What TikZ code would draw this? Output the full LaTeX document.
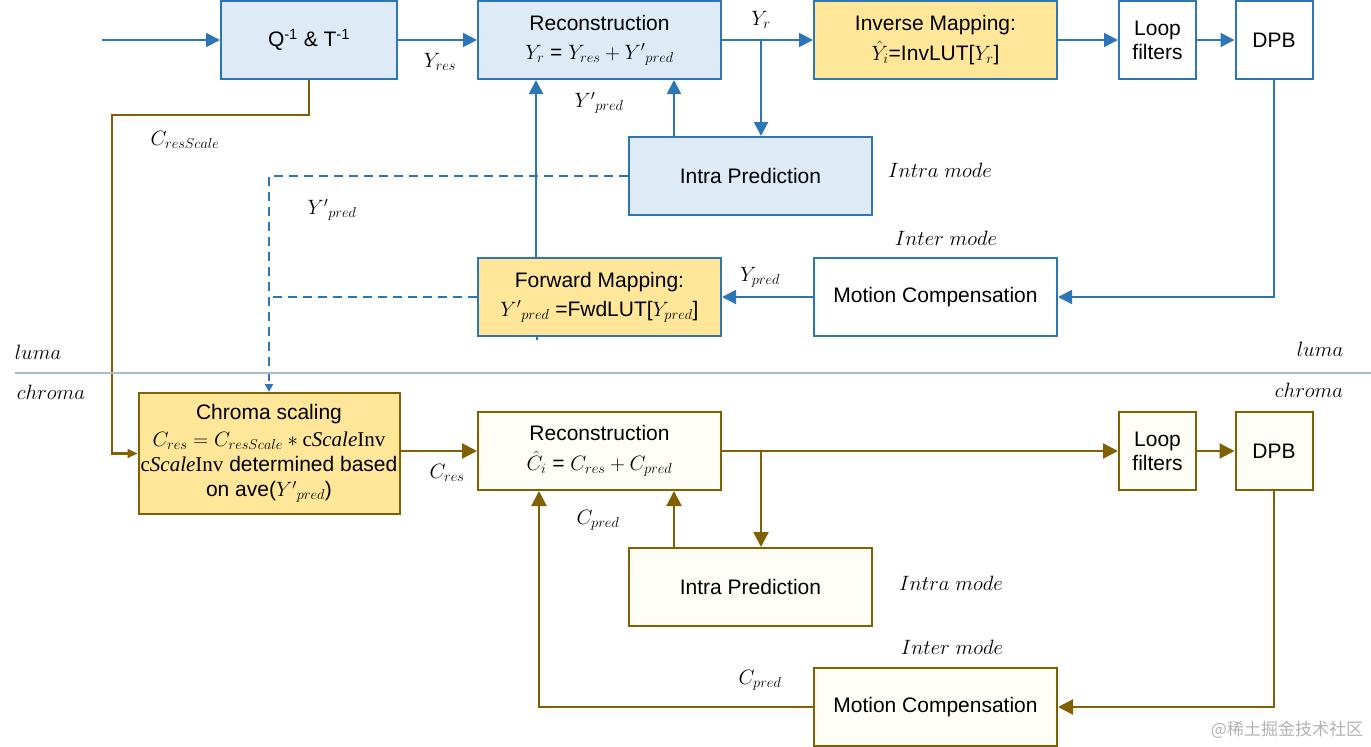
\documentclass[tikz,border=0pt]{standalone}
\usepackage{fontspec}
\setmainfont{Liberation Sans}
\newfontfamily\serifc{Liberation Serif}
\newfontfamily\cjk{Noto Sans CJK SC}
\usetikzlibrary{arrows.meta,calc}
\definecolor{lblue}{HTML}{2E75B6}
\definecolor{lfill}{HTML}{DEEBF7}
\definecolor{yfill}{HTML}{FFE699}
\definecolor{brn}{HTML}{806000}
\definecolor{cfill}{HTML}{FFFEF6}
\definecolor{divc}{HTML}{A9BBD3}
\newcommand{\Yp}{{Y'}}
\newcommand{\csinv}{{\serifc c{\itshape Scale}Inv}}
\tikzset{
  box/.style={draw, line width=2pt, inner sep=2pt, align=center,
    font=\fontsize{21}{26}\selectfont},
  lbox/.style={box, draw=lblue, fill=white},
  cbox/.style={box, draw=brn, fill=cfill},
  bl/.style={draw=lblue, line width=2pt, -{Triangle[length=14pt,width=14pt]}},
  blplain/.style={draw=lblue, line width=2pt},
  bldash/.style={draw=lblue, line width=2pt, dash pattern=on 9pt off 6pt},
  br/.style={draw=brn, line width=2.2pt, -{Triangle[length=15pt,width=15pt]}},
  brplain/.style={draw=brn, line width=2.2pt},
  lab/.style={font=\fontsize{21}{26}\selectfont, inner sep=0pt},
}
\begin{document}
\begin{tikzpicture}[x=1pt,y=-1pt]
\useasboundingbox (0,0) rectangle (1371,747);
% luma boxes
\node[lbox, fill=lfill, minimum width=176, minimum height=78] (q) at (309,40) {Q\textsuperscript{-1} \& T\textsuperscript{-1}};
\node[lbox, fill=lfill, minimum width=243, minimum height=78] (recon) at (599.5,40) {Reconstruction\\[3pt]$Y_r$ = $Y_{res}+\Yp_{pred}$};
\node[lbox, fill=yfill, minimum width=243, minimum height=78] (inv) at (935.5,40) {Inverse Mapping:\\[4pt]$\hat{Y}_i$=InvLUT[$Y_r$]};
\node[lbox, minimum width=77, minimum height=78] (loop) at (1157.5,40) {Loop\\[-2pt]filters};
\node[lbox, minimum width=77, minimum height=78] (dpb) at (1274,40) {DPB};
\node[lbox, fill=lfill, minimum width=243, minimum height=78] (intra) at (750.5,176) {Intra Prediction};
\node[lbox, minimum width=243, minimum height=78] (mc) at (935.5,297) {Motion Compensation};
% chroma boxes
\node[cbox, fill=yfill, minimum width=261, minimum height=121, font=\fontsize{21}{25}\selectfont] (cs) at (269,453.5)
  {Chroma scaling\\[2pt]$C_{res}=C_{resScale}*\mbox{\csinv}$\\[0pt]\csinv{} determined based\\[0pt]on ave($\Yp_{pred}$)};
\node[cbox, minimum width=243, minimum height=78] (crec) at (599.5,451) {Reconstruction\\[4pt]$\hat{C}_i$ = $C_{res}+C_{pred}$};
\node[cbox, minimum width=77, minimum height=78] (cloop) at (1157.5,451) {Loop\\[-2pt]filters};
\node[cbox, minimum width=77, minimum height=78] (cdpb) at (1274,451) {DPB};
\node[cbox, minimum width=243, minimum height=78] (cintra) at (750.5,587) {Intra Prediction};
\node[cbox, minimum width=243, minimum height=78] (cmc) at (935.5,707) {Motion Compensation};

% forward mapping drawn after the vertical line below
\coordinate (fwdc) at (599.5,297);
\coordinate (fvbot) at (537,340);
\draw[blplain] (fvbot) -- (537,258);
\node[lbox, fill=yfill, minimum width=243, minimum height=78] (fwd) at (fwdc) {Forward Mapping:\\[3pt]$\Yp_{pred}$ =FwdLUT[$Y_{pred}$]};
\draw[bl] ([xshift=59pt]fwd.north west) -- ([xshift=59pt]recon.south west);

% luma connectors
\coordinate (in) at (102,40);
\draw[bl] (in) -- (q);
\draw[bl] (q) -- (recon);
\draw[bl] (recon) -- (inv);
\coordinate (br1) at (761,40);
\draw[bl] (br1) -- (br1 |- intra.north);
\draw[bl] (inv) -- (loop);
\draw[bl] (loop) -- (dpb);
\draw[bl] (dpb.south) |- (mc.east);
\draw[bl] (mc) -- (fwd);
\draw[bl] ([xshift=46pt]intra.north west) -- ([xshift=46pt]intra.north west |- recon.south);
% dashed
\draw[bldash, -{Triangle[length=8pt,width=8pt]}] (intra.west) -| (cs.north);
\draw[bldash] (fwd.west) -- (fwd.west -| cs.north);
% brown from Q
\coordinate (k1) at (112,115);
\draw[brplain, -{Triangle[length=10pt,width=9pt]}] (q.south) |- (k1) |- (cs.west);

% chroma connectors
\draw[br] (cs.east |- crec.west) -- (crec.west);
\draw[br] (crec) -- (cloop);
\draw[br] (cloop) -- (cdpb);
\coordinate (br2) at (761,451);
\draw[br] (br2) -- (br2 |- cintra.north);
\draw[br] (cdpb.south) |- (cmc.east);
\draw[br] (cmc.west) -| ([xshift=62pt]crec.south west);
\draw[br] ([xshift=46pt]cintra.north west) -- ([xshift=46pt]cintra.north west |- crec.south);

% divider
\draw[divc, line width=1.5pt] (15,373) -- (1371,373);

% labels
\node[lab] (lyres) at (440,62) {$Y_{res}$};
\node[lab] (lyr) at (761,20) {$Y_r$};
\node[lab] (lyp1) at (599,103) {$\Yp_{pred}$};
\node[lab] (lyp2) at (332,210) {$\Yp_{pred}$};
\node[lab] (lypred) at (760,277) {$Y_{pred}$};
\node[lab] (lcrs) at (185,140) {$C_{resScale}$};
\node[lab] (lcres) at (447,473) {$C_{res}$};
\node[lab] (lcp1) at (598,520) {$C_{pred}$};
\node[lab] (lcp2) at (760,680) {$C_{pred}$};
\node[lab] (im1) at (940,170) {$Intra\ mode$};
\node[lab] (em1) at (946,238) {$Inter\ mode$};
\node[lab] (im2) at (951,583) {$Intra\ mode$};
\node[lab] (em2) at (952,647) {$Inter\ mode$};
\node[lab] (luL) at (38,352) {$luma$};
\node[lab] (luR) at (1320,349) {$luma$};
\node[lab] (chL) at (51,392) {$chroma$};
\node[lab] (chR) at (1309,390) {$chroma$};
\node[inner sep=0pt, text=black!30, font=\cjk\fontsize{17}{20}\selectfont] (wm) at (1287,730) {@稀土掘金技术社区};
\end{tikzpicture}
\end{document}
